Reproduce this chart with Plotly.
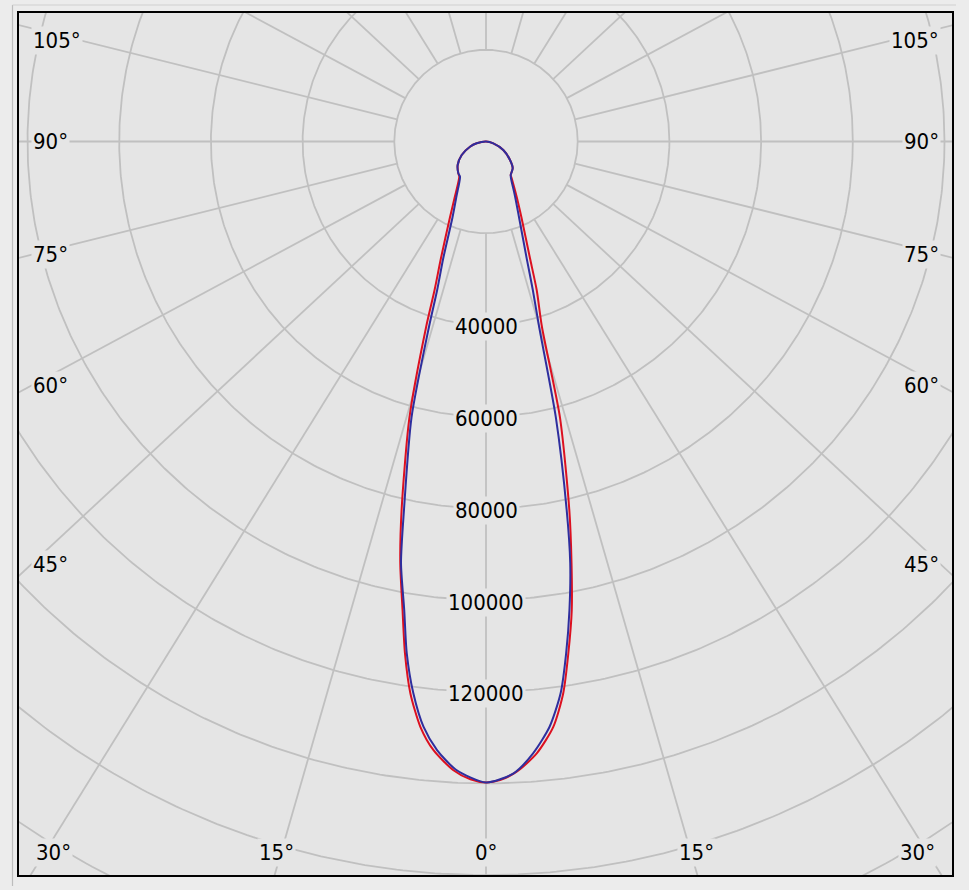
import numpy as np
import plotly.graph_objects as go

# ---------------- data ----------------
# gamma angle in degrees (0 = straight down, negative = left half), intensity in cd
red_gamma = [-90, -79, -72, -61, -50.3, -41.0, -37.2, -29.6, -25.4, -21.1, -19.1, -17.9,
             -15.5, -12.9, -11.5, -10.1, -9.0, -7.8, -6.4, -4.95, -3.0, -1.4, 0,
             1.26, 2.79, 4.74, 6.56, 7.97, 9.14, 10.37, 11.47, 12.74, 15.0, 16.8, 18.85,
             20.64, 25.0, 29.2, 34.9, 36.4, 44.9, 52.4, 63.8, 76, 90]
red_cd = [0, 2070, 3670, 6060, 8030, 9200, 9640, 13680, 18340, 27300, 34280, 42450,
          62500, 82450, 93800, 103800, 113000, 121500, 128450, 133200, 137250, 139150, 139800,
          139300, 137600, 133900, 128500, 121500, 113050, 103900, 93800, 82400, 62350, 42200, 34220,
          27220, 18300, 13620, 9790, 9080, 8250, 6610, 4200, 1640, 0]

blue_gamma = [-90, -79, -72, -61, -50.3, -41.0, -36.5, -28.4, -23.8, -20.1, -18.2, -17.1,
              -15.1, -12.55, -11.4, -9.9, -8.8, -7.5, -6.1, -4.6, -2.7, 0,
              2.5, 4.4, 6.2, 7.7, 8.9, 10.1, 11.3, 12.35, 14.2, 16.0, 17.5, 19.2,
              23.5, 28.0, 34.2, 36.4, 44.9, 52.4, 63.8, 76, 90]
blue_cd = [0, 2070, 3670, 6060, 8030, 9200, 9530, 13520, 18120, 27130, 34090, 42270,
           62380, 82330, 93780, 103730, 112960, 121390, 128350, 133150, 137230, 139800,
           137930, 133830, 128400, 121440, 112980, 103790, 93740, 82270, 62140, 42010, 33960, 26980,
           18080, 13460, 9700, 9080, 8250, 6610, 4200, 1640, 0]

ring_values = [20000, 40000, 60000, 80000, 100000, 120000, 140000, 160000, 180000]
ring_labels = ["40000", "60000", "80000", "100000", "120000"]
ring_label_values = [40000, 60000, 80000, 100000, 120000]
spoke_angles = list(range(0, 360, 15))
side_labels = ["105°", "90°", "75°", "60°", "45°"]
bottom_labels = ["30°", "15°", "0°", "15°", "30°"]

# ---------------- layout geometry ----------------
W, H = 969, 890
ML, MR, MT, MB = 19, 17, 13, 15
PW, PH = W - ML - MR, H - MT - MB
CX, CY = 486 - ML, 141.5 - MT          # pole position inside plot area (px)
CD_PER_PX = 20000 / 91.7
K = 0.93                                 # vertical squeeze of the spoke directions
xr = [-CX * CD_PER_PX, (PW - CX) * CD_PER_PX]
yr = [-(PH - CY) * CD_PER_PX, CY * CD_PER_PX]

BG_PLOT = "#e5e5e5"
BG_PAPER = "#ececec"
GRID = "#c0c0c0"
FONT = "DejaVu Sans Condensed, DejaVu Sans, sans-serif"
FS = 22


def to_xy(gamma_deg, cd):
    g = np.radians(np.asarray(gamma_deg, dtype=float))
    c = np.asarray(cd, dtype=float)
    return c * np.sin(g), -c * np.cos(g)


fig = go.Figure()

# rings
t = np.linspace(0, 2 * np.pi, 721)
rx, ry = [], []
for v in ring_values:
    rx += list(v * np.cos(t)) + [None]
    ry += list(v * np.sin(t)) + [None]
fig.add_trace(go.Scatter(x=rx, y=ry, mode="lines", line=dict(color=GRID, width=1.8),
                         hoverinfo="skip", showlegend=False))

# spokes
sx, sy = [], []
for a in spoke_angles:
    ar = np.radians(a)
    d = np.array([np.sin(ar), -K * np.cos(ar)])
    d /= np.hypot(*d)
    p0 = ring_values[0] * d
    p1 = 400000 * d
    sx += [p0[0], p1[0], None]
    sy += [p0[1], p1[1], None]
fig.add_trace(go.Scatter(x=sx, y=sy, mode="lines", line=dict(color=GRID, width=1.8),
                         hoverinfo="skip", showlegend=False))

# curves
x, y = to_xy(red_gamma, red_cd)
fig.add_trace(go.Scatter(x=x, y=y, mode="lines",
                         line=dict(color="#dc1020", width=2, shape="spline", smoothing=0.7),
                         name="C0-C180", showlegend=False))
x, y = to_xy(blue_gamma, blue_cd)
fig.add_trace(go.Scatter(x=x, y=y, mode="lines",
                         line=dict(color="#2e2e9e", width=2, shape="spline", smoothing=0.7),
                         name="C90-C270", showlegend=False))


def px(xp):
    return (xp - ML) / PW


def py(yp):
    return 1 - (yp - MT) / PH


annotations = []
for lab, v in zip(ring_labels, ring_label_values):
    annotations.append(dict(x=0, y=-v, xref="x", yref="y", text=lab, showarrow=False,
                            font=dict(family=FONT, size=FS, color="#000"),
                            bgcolor=BG_PLOT, borderpad=1, yshift=-2))

side_y = [41, 141.5, 254.5, 385, 564]
for lab, yy in zip(side_labels, side_y):
    annotations.append(dict(x=px(31), y=py(yy), xref="paper", yref="paper", text=lab,
                            showarrow=False, xanchor="left", yanchor="middle",
                            font=dict(family=FONT, size=FS, color="#000"),
                            bgcolor=BG_PLOT, borderpad=1))
    annotations.append(dict(x=px(940.5), y=py(yy), xref="paper", yref="paper", text=lab,
                            showarrow=False, xanchor="right", yanchor="middle",
                            font=dict(family=FONT, size=FS, color="#000"),
                            bgcolor=BG_PLOT, borderpad=1))

bottom_x = [53, 276, 486, 696, 917]
for lab, xx in zip(bottom_labels, bottom_x):
    annotations.append(dict(x=px(xx), y=py(852), xref="paper", yref="paper", text=lab,
                            showarrow=False, xanchor="center", yanchor="middle",
                            font=dict(family=FONT, size=FS, color="#000"),
                            bgcolor=BG_PLOT, borderpad=1))

shapes = [
    dict(type="line", xref="paper", yref="paper", x0=px(12.5), x1=px(12.5),
         y0=py(5), y1=py(886), line=dict(color="#bdbdbd", width=1.2)),
    dict(type="line", xref="paper", yref="paper", x0=px(12.5), x1=px(956),
         y0=py(5), y1=py(5), line=dict(color="#cfcfcf", width=1.2)),
]

fig.update_layout(
    width=W, height=H,
    margin=dict(l=ML, r=MR, t=MT, b=MB, pad=0),
    paper_bgcolor=BG_PAPER, plot_bgcolor=BG_PLOT,
    xaxis=dict(range=xr, showgrid=False, zeroline=False, showticklabels=False, ticks="",
               showline=True, mirror=True, linecolor="#000", linewidth=1.5, fixedrange=True),
    yaxis=dict(range=yr, showgrid=False, zeroline=False, showticklabels=False, ticks="",
               showline=True, mirror=True, linecolor="#000", linewidth=1.5, fixedrange=True),
    annotations=annotations,
    shapes=shapes,
    showlegend=False,
)

fig.write_html(
    "out.html",
    config={"displayModeBar": False},
    post_script="document.body.style.margin='0';document.body.style.overflow='hidden';"
                "document.body.style.background='" + BG_PAPER + "';",
)
